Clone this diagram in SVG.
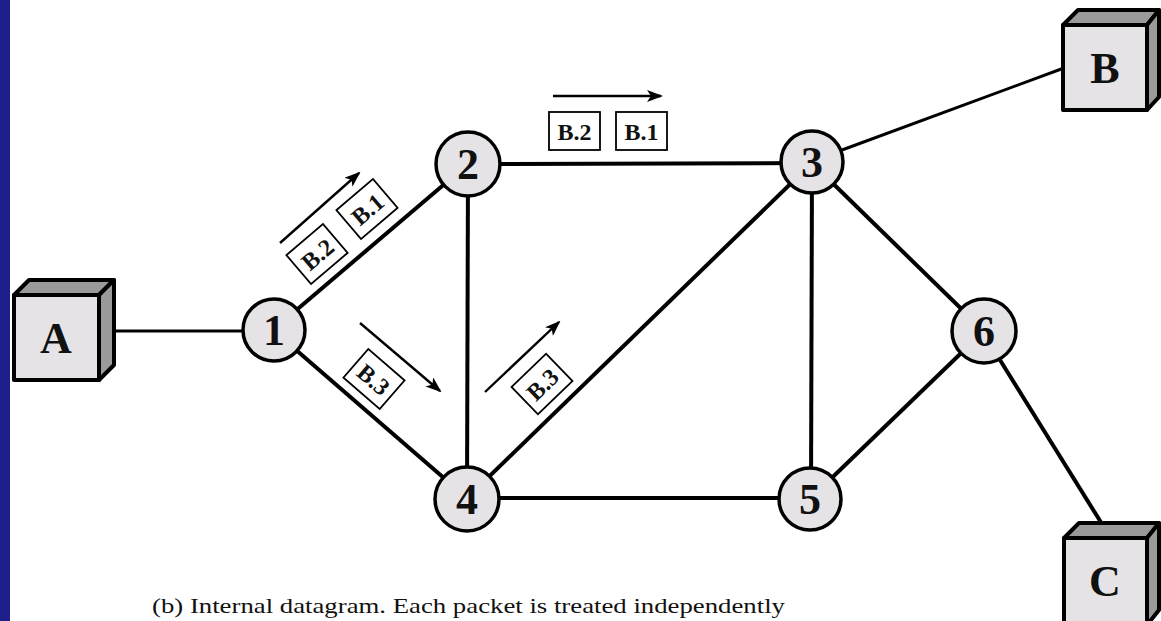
<svg xmlns="http://www.w3.org/2000/svg" width="1161" height="621" viewBox="0 0 1161 621">
<style>
.edge{stroke:#000;stroke-width:4;fill:none}
.thin{stroke:#000;stroke-width:3;fill:none}
.node circle{fill:#e6e3e6;stroke:#000;stroke-width:3.5}
.lbl{font-family:"Liberation Serif","Times New Roman",Tinos,serif;font-weight:bold;fill:#111;text-anchor:middle}
.num{font-size:44px}
.host{font-size:44px}
.front{fill:#e6e3e6;stroke:#000;stroke-width:4;stroke-linejoin:round}
.dark{fill:#9a9a9a;stroke:#000;stroke-width:4;stroke-linejoin:round}
.pkt rect{fill:#fff;stroke:#000;stroke-width:1.8}
.pkt text{font-family:"Liberation Serif","Times New Roman",Tinos,serif;font-weight:bold;font-size:24px;fill:#111;text-anchor:middle}
.arr{stroke:#000;stroke-width:2.4;fill:none;marker-end:url(#ah)}
.cap{font-family:"Liberation Serif","Times New Roman",Tinos,serif;font-size:21px;fill:#111}
</style>
<defs>
<marker id="ah" markerWidth="16" markerHeight="12" refX="14" refY="6" orient="auto" markerUnits="userSpaceOnUse">
<path d="M0,0 L16,6 L0,12 L4,6 Z" fill="#000"/>
</marker>
</defs>
<rect x="0" y="0" width="1161" height="621" fill="#fff"/>
<rect x="0" y="0" width="10" height="621" fill="#1f1f8c"/>

<g id="connectors">
<line class="thin" x1="112" y1="331" x2="245" y2="331"/>
<line class="thin" x1="842" y1="150" x2="1064" y2="68"/>
<line class="edge" x1="1000" y1="360" x2="1102" y2="524"/>
<line class="edge" x1="273" y1="330" x2="468" y2="164"/>
<line class="edge" x1="273" y1="330" x2="467" y2="498"/>
<line class="edge" x1="468" y1="164" x2="467" y2="498"/>
<line class="edge" x1="468" y1="164" x2="812" y2="163"/>
<line class="edge" x1="812" y1="163" x2="467" y2="498"/>
<line class="edge" x1="812" y1="163" x2="811" y2="498"/>
<line class="edge" x1="812" y1="163" x2="984" y2="331"/>
<line class="edge" x1="467" y1="498" x2="811" y2="498"/>
<line class="edge" x1="811" y1="498" x2="984" y2="331"/>
</g>

<g id="packets">
<g class="pkt" transform="translate(317,254) rotate(-40.4)"><rect x="-24" y="-19" width="48" height="38"/><text x="0" y="9">B.2</text></g>
<g class="pkt" transform="translate(367,209) rotate(-40.4)"><rect x="-24" y="-19" width="48" height="38"/><text x="0" y="9">B.1</text></g>
<line class="arr" x1="280" y1="243" x2="359" y2="173"/>
<g class="pkt" transform="translate(374,379) rotate(40.9)"><rect x="-24" y="-19" width="48" height="38"/><text x="0" y="9">B.3</text></g>
<line class="arr" x1="360" y1="323" x2="440" y2="391"/>
<g class="pkt" transform="translate(542,384) rotate(-44)"><rect x="-24" y="-19" width="48" height="38"/><text x="0" y="9">B.3</text></g>
<line class="arr" x1="485" y1="392" x2="559" y2="322"/>
<g class="pkt"><rect x="549" y="112" width="51" height="38"/><text x="574.5" y="140">B.2</text></g>
<g class="pkt"><rect x="616" y="112" width="51" height="38"/><text x="641.5" y="140">B.1</text></g>
<line class="arr" x1="553" y1="96" x2="661" y2="96"/>
</g>

<g id="host-A">
<polygon class="dark" points="14,295 29,280 114,280 99,295"/>
<polygon class="dark" points="99,295 114,280 114,365 99,380"/>
<rect class="front" x="14" y="295" width="85" height="85"/>
<text class="lbl host" x="56" y="353">A</text>
</g>
<g id="host-B">
<polygon class="dark" points="1063,25 1078,10 1159,10 1147,25"/>
<polygon class="dark" points="1147,25 1159,10 1159,97 1147,110"/>
<rect class="front" x="1063" y="25" width="84" height="85"/>
<text class="lbl host" x="1105" y="83">B</text>
</g>
<g id="host-C">
<polygon class="dark" points="1064,538 1079,523 1159,523 1147,538"/>
<polygon class="dark" points="1147,538 1159,523 1159,610 1147,625"/>
<rect class="front" x="1064" y="538" width="83" height="90"/>
<text class="lbl host" x="1105" y="596">C</text>
</g>

<g id="node-1" class="node"><circle cx="274" cy="330" r="31"/><text class="lbl num" x="274" y="345">1</text></g>
<g id="node-2" class="node"><circle cx="468" cy="164" r="32"/><text class="lbl num" x="468" y="179">2</text></g>
<g id="node-3" class="node"><circle cx="812" cy="162" r="31"/><text class="lbl num" x="812" y="177">3</text></g>
<g id="node-4" class="node"><circle cx="467" cy="499" r="32"/><text class="lbl num" x="467" y="514">4</text></g>
<g id="node-5" class="node"><circle cx="810" cy="499" r="31"/><text class="lbl num" x="810" y="514">5</text></g>
<g id="node-6" class="node"><circle cx="984" cy="331" r="32"/><text class="lbl num" x="984" y="346">6</text></g>

<text class="cap" x="152" y="613" textLength="633" lengthAdjust="spacingAndGlyphs">(b) Internal datagram. Each packet is treated independently</text>
</svg>
